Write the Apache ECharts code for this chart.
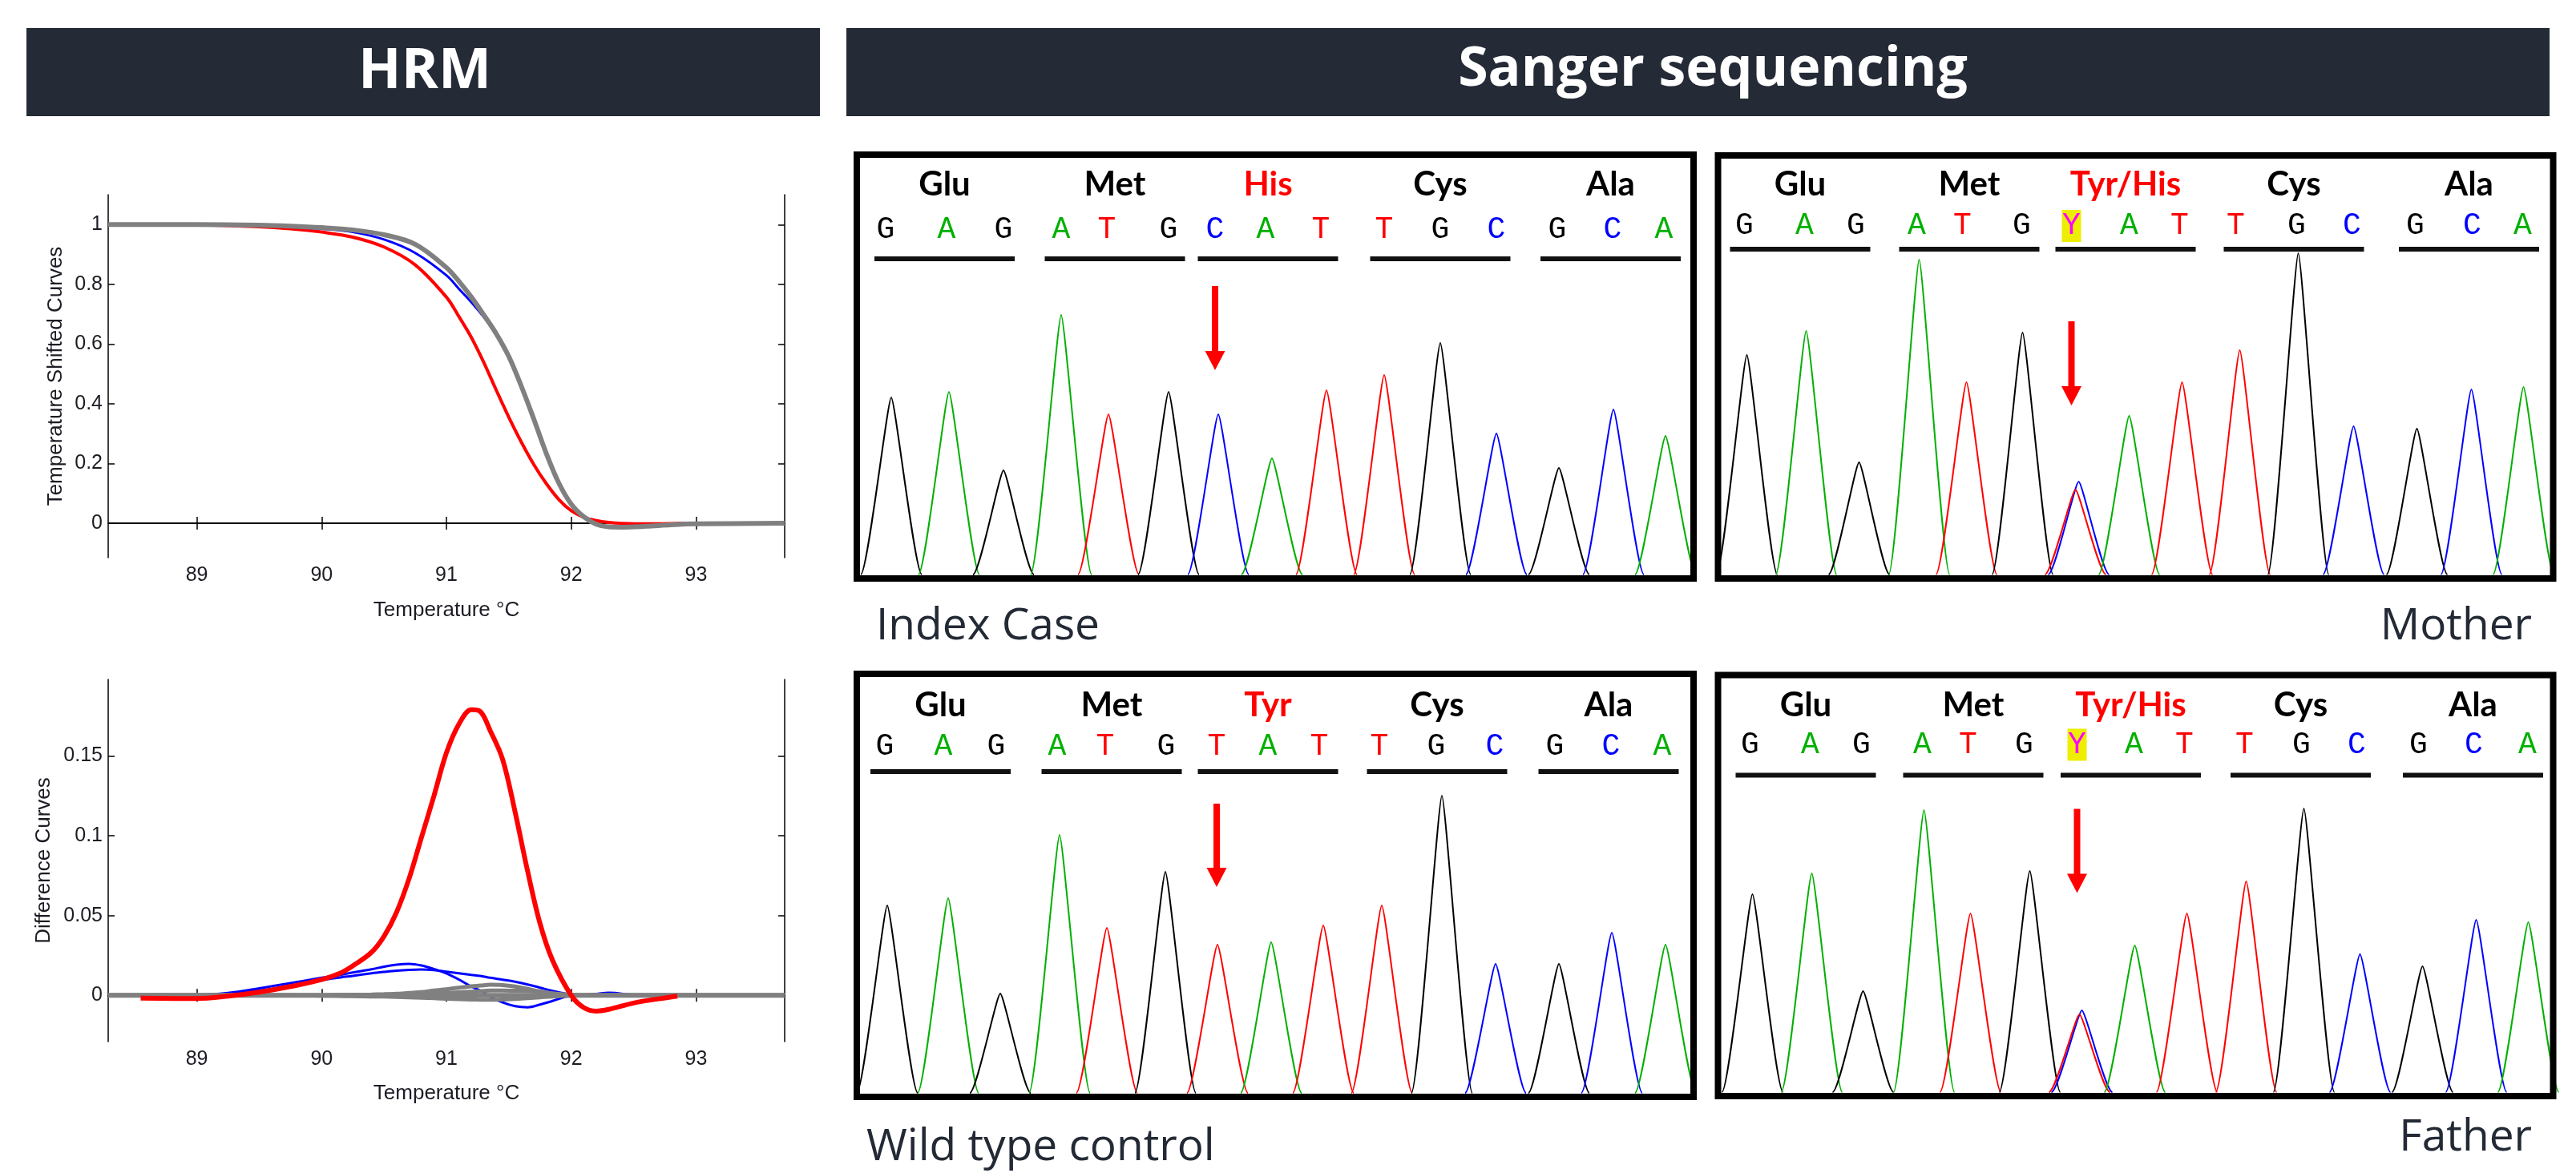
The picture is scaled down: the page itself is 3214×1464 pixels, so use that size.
<!DOCTYPE html>
<html><head><meta charset="utf-8">
<script src="https://cdn.jsdelivr.net/npm/echarts@6/dist/echarts.min.js"></script>
<style>html,body{margin:0;padding:0;background:#fff;}#c{width:3214px;height:1464px;}</style>
</head><body><div id="c"></div>
<script>
// ---------------- HRM data ----------------
const tempTicks = [89, 90, 91, 92, 93];
const meltYTicks = [0, 0.2, 0.4, 0.6, 0.8, 1];
const diffYTicks = [0, 0.05, 0.1, 0.15];

const hrmTempMelt = [88.29, 88.5, 89, 89.5, 89.75, 90, 90.25, 90.5, 90.75, 91, 91.1, 91.2, 91.3, 91.4, 91.5, 91.6, 91.7, 91.8, 91.9, 92, 92.1, 92.2, 92.3, 92.4, 92.6, 92.8, 93, 93.71];
const meltGrey = [1, 1, 1, 0.998, 0.995, 0.99, 0.982, 0.966, 0.934, 0.856, 0.81, 0.757, 0.697, 0.634, 0.558, 0.459, 0.349, 0.234, 0.135, 0.064, 0.022, -0.003, -0.012, -0.013, -0.01, -0.005, -0.002, 0];
const meltBlue = [1, 1, 1, 0.997, 0.992, 0.986, 0.975, 0.950, 0.905, 0.830, 0.785, 0.740, 0.690, 0.634, 0.558, 0.459, 0.349, 0.234, 0.135, 0.064, 0.022, -0.003, -0.012, -0.013, -0.01, -0.005, -0.002, 0];
const meltRed = [1, 1, 0.999, 0.993, 0.986, 0.975, 0.958, 0.925, 0.865, 0.757, 0.692, 0.622, 0.538, 0.445, 0.355, 0.272, 0.197, 0.133, 0.08, 0.042, 0.02, 0.009, 0.003, 0, -0.002, -0.001, 0, 0];

const hrmTempDiff = [88.29, 88.55, 89, 89.25, 89.5, 89.75, 90, 90.15, 90.25, 90.4, 90.5, 90.6, 90.7, 90.8, 90.9, 91, 91.1, 91.2, 91.27, 91.35, 91.45, 91.55, 91.65, 91.75, 91.85, 92, 92.1, 92.2, 92.3, 92.5, 92.7, 92.85, 93, 93.71];
const diffRed = [null, -0.0018, -0.002, -0.0005, 0.002, 0.0055, 0.0099, 0.014, 0.0185, 0.027, 0.037, 0.052, 0.073, 0.099, 0.125, 0.152, 0.17, 0.179, 0.178, 0.166, 0.148, 0.115, 0.078, 0.045, 0.022, 0, -0.0077, -0.0099, -0.0088, -0.0048, -0.0022, -0.0005, null, null];
const diffBlue1 = [0, 0, 0.0002, 0.0015, 0.0044, 0.0077, 0.011, 0.0128, 0.0143, 0.0163, 0.018, 0.0192, 0.0197, 0.0187, 0.0165, 0.0138, 0.0099, 0.0055, 0.003, -0.001, -0.0045, -0.0068, -0.0075, -0.0058, -0.0035, 0, 0.0004, 0.0009, 0.0016, 0.0003, 0, 0, 0, 0];
const diffBlue2 = [0, 0, 0, 0.001, 0.003, 0.006, 0.0095, 0.0112, 0.0122, 0.0138, 0.0147, 0.0155, 0.016, 0.0162, 0.0158, 0.0148, 0.0138, 0.0128, 0.0122, 0.011, 0.0098, 0.0085, 0.0068, 0.0048, 0.0028, 0.0005, 0, 0, 0, 0, 0, 0, 0, 0];
const diffGreyA = [0, 0, 0, 0, 0, 0, 0, 0.0002, 0.0003, 0.0005, 0.0007, 0.001, 0.0015, 0.002, 0.003, 0.0038, 0.0048, 0.0057, 0.0061, 0.0066, 0.0064, 0.0055, 0.004, 0.0025, 0.0012, 0.0002, 0, 0, 0, 0, 0, 0, 0, 0];
const diffGreyB = [0, 0, 0, 0, 0, 0, -0.0002, -0.0004, -0.0005, -0.0007, -0.0008, -0.001, -0.0012, -0.0015, -0.0018, -0.0021, -0.0024, -0.0026, -0.0027, -0.0028, -0.0026, -0.0022, -0.0017, -0.0012, -0.0007, -0.0002, 0, 0, 0, 0, 0, 0, 0, 0];
const diffGreyC = [0, 0, 0, 0, 0, 0, 0, 0, 0, 0, 0, 0, 0, 0, 0, 0, 0, 0, 0, 0, 0, 0, 0, 0, 0, 0, 0, 0, 0, 0, 0, 0, 0, 0];
const diffGreyD = [0, 0, 0, 0, 0, 0, 0, 0, 0.0002, 0.0003, 0.0004, 0.0006, 0.0009, 0.0011, 0.0013, 0.0015, 0.0019, 0.0023, 0.0026, 0.003, 0.003, 0.0029, 0.0028, 0.0021, 0.0012, 0.0003, 0, 0, 0, 0, 0, 0, 0, 0];

// ---------------- Sanger data (trace position, signal) ----------------
const indexPeakBase = ['G','A','G','A','T','G','C','A','T','T','G','C','G','C','A'];
const indexPeakPos = [43, 115, 183, 255, 314, 389, 451, 518, 586, 658, 728, 798, 876, 944, 1009];
const indexPeakHeight = [221, 228, 130, 324, 200, 228, 200, 145, 230, 249, 289, 176, 133, 206, 173];
const indexCalls = ['G','A','G','A','T','G','C','A','T','T','G','C','G','C','A'];
const indexCallPos = [36, 112, 183, 255, 312, 389, 447, 510, 579, 658, 728, 798, 874, 943, 1007];
const indexAminoAcids = ['Glu', 'Met', 'His', 'Cys', 'Ala'];

const motherPeakBase = ['G','A','G','A','T','G','C','T','A','T','T','G','C','G','C','A'];
const motherPeakPos = [36, 110, 176, 251, 310, 380, 450, 446, 513, 579, 651, 724, 793, 872, 940, 1005];
const motherPeakHeight = [274, 304, 140, 393, 240, 302, 116, 106, 198, 240, 280, 401, 185, 182, 231, 234];
const motherCalls = ['G','A','G','A','T','G','Y','A','T','T','G','C','G','C','A'];
const motherCallPos = [33, 108, 172, 248, 305, 379, 441, 513, 576, 646, 722, 791, 870, 941, 1004];
const motherAminoAcids = ['Glu', 'Met', 'Tyr/His', 'Cys', 'Ala'];

const wtPeakBase = ['G','A','G','A','T','G','T','A','T','T','G','C','G','C','A'];
const wtPeakPos = [38, 114, 179, 253, 312, 385, 450, 517, 582, 655, 730, 797, 876, 942, 1009];
const wtPeakHeight = [234, 243, 124, 322, 206, 276, 185, 188, 209, 234, 371, 161, 161, 200, 185];
const wtCalls = ['G','A','G','A','T','G','T','A','T','T','G','C','G','C','A'];
const wtCallPos = [35, 108, 174, 250, 310, 386, 449, 513, 577, 652, 723, 796, 871, 941, 1005];
const wtAminoAcids = ['Glu', 'Met', 'Tyr', 'Cys', 'Ala'];

const fatherPeakBase = ['G','A','G','A','T','G','C','T','A','T','T','G','C','G','C','A'];
const fatherPeakPos = [43, 117, 181, 257, 315, 389, 454, 451, 520, 585, 659, 731, 801, 879, 946, 1011];
const fatherPeakHeight = [247, 273, 126, 352, 223, 276, 102, 97, 183, 223, 263, 354, 172, 157, 215, 212];
const fatherCalls = ['G','A','G','A','T','G','Y','A','T','T','G','C','G','C','A'];
const fatherCallPos = [40, 115, 179, 255, 312, 382, 448, 519, 582, 657, 728, 797, 874, 943, 1010];
const fatherAminoAcids = ['Glu', 'Met', 'Tyr/His', 'Cys', 'Ala'];

const mutantCodon = 2;
const mutantBase = 6;

// ---------------- layout / style ----------------
const CH_COLOR = {G: '#000000', A: '#00b000', T: '#ff0000', C: '#0000ff', Y: '#ff00ff'};
const PEAK_HALF = 38;
const panels = [
  {name: 'index', grid: {left: 1069, top: 193, width: 1044, height: 529}, aaY: 37, baseY: 94, ulY: 130, arrowTop: 164, arrowTip: 269,
   pb: indexPeakBase, pp: indexPeakPos, ph: indexPeakHeight, calls: indexCalls, cp: indexCallPos, aa: indexAminoAcids},
  {name: 'mother', grid: {left: 2143.5, top: 194, width: 1042, height: 528}, aaY: 36, baseY: 88, ulY: 117, arrowTop: 207, arrowTip: 312,
   pb: motherPeakBase, pp: motherPeakPos, ph: motherPeakHeight, calls: motherCalls, cp: motherCallPos, aa: motherAminoAcids},
  {name: 'wt', grid: {left: 1069, top: 841, width: 1044, height: 528}, aaY: 39, baseY: 91, ulY: 122, arrowTop: 162, arrowTip: 266,
   pb: wtPeakBase, pp: wtPeakPos, ph: wtPeakHeight, calls: wtCalls, cp: wtCallPos, aa: wtAminoAcids},
  {name: 'father', grid: {left: 2143.5, top: 842.5, width: 1042, height: 525.5}, aaY: 38, baseY: 87, ulY: 125, arrowTop: 167, arrowTip: 272,
   pb: fatherPeakBase, pp: fatherPeakPos, ph: fatherPeakHeight, calls: fatherCalls, cp: fatherCallPos, aa: fatherAminoAcids}
];

const AX_FONT = '"Liberation Sans", Arial, sans-serif';
const AX_COLOR = '#1c1c24';

function zip(xs, ys) { return xs.map((x, i) => [x, ys[i]]).filter(p => p[1] !== null); }

const grids = [
  {left: 135, top: 243, width: 844, height: 453},
  {left: 135, top: 848, width: 844, height: 452}
];
panels.forEach(p => grids.push(p.grid));

const xAxes = [], yAxes = [];
function hrmAxes(gi, ymin, ymax, yTicks, yName, yGap, xGap) {
  const line = {show: true, lineStyle: {color: '#000', width: 1.5}};
  const tick = (vals) => ({show: true, inside: true, length: 8, lineStyle: {color: '#000', width: 1.5}, customValues: vals});
  xAxes.push({gridIndex: gi, type: 'value', position: 'bottom', min: 88.29, max: 93.71,
    axisLine: line, axisTick: tick(tempTicks), splitLine: {show: false},
    axisLabel: {customValues: tempTicks, fontSize: 25, color: AX_COLOR, fontFamily: AX_FONT, margin: 10},
    name: 'Temperature °C', nameLocation: 'middle', nameGap: xGap,
    nameTextStyle: {fontSize: 26, color: AX_COLOR, fontFamily: AX_FONT}});
  xAxes.push({gridIndex: gi, type: 'value', position: 'top', min: 88.29, max: 93.71,
    axisLine: line, axisTick: tick(tempTicks), axisLabel: {show: false}, splitLine: {show: false}});
  yAxes.push({gridIndex: gi, type: 'value', position: 'left', min: ymin, max: ymax,
    axisLine: line, axisTick: tick(yTicks), splitLine: {show: false},
    axisLabel: {customValues: yTicks, fontSize: 25, color: AX_COLOR, fontFamily: AX_FONT, margin: 7},
    name: yName, nameLocation: 'middle', nameGap: yGap, nameRotate: 90,
    nameTextStyle: {fontSize: 26, color: AX_COLOR, fontFamily: AX_FONT}});
  yAxes.push({gridIndex: gi, type: 'value', position: 'right', min: ymin, max: ymax,
    axisLine: line, axisTick: tick(yTicks), axisLabel: {show: false}, splitLine: {show: false}});
}
hrmAxes(0, -0.115, 1.1, meltYTicks, 'Temperature Shifted Curves', 52, 53);
hrmAxes(1, -0.029, 0.198, diffYTicks, 'Difference Curves', 67, 52);
panels.forEach((p, k) => {
  xAxes.push({gridIndex: 2 + k, type: 'value', min: 0, max: p.grid.width, show: false});
  yAxes.push({gridIndex: 2 + k, type: 'value', min: -5, max: p.grid.height - 5, show: false});
});

const series = [];
function hrmLine(ai, xs, ys, color, width) {
  series.push({type: 'line', xAxisIndex: ai, yAxisIndex: ai, data: zip(xs, ys), showSymbol: false, symbol: 'none',
    smooth: 0.35, lineStyle: {color: color, width: width}, silent: true});
}
// melt curves (axis index 0)
hrmLine(0, hrmTempMelt, meltRed, '#ff0000', 4);
hrmLine(0, hrmTempMelt, meltBlue, '#0000ff', 3);
hrmLine(0, hrmTempMelt, meltGrey, '#808080', 6);
// difference curves (axis index 2)
hrmLine(2, hrmTempDiff, diffBlue1, '#0000ff', 3);
hrmLine(2, hrmTempDiff, diffBlue2, '#0000ff', 3);
hrmLine(2, hrmTempDiff, diffGreyA, '#808080', 5);
hrmLine(2, hrmTempDiff, diffGreyB, '#808080', 5);
hrmLine(2, hrmTempDiff, diffGreyD, '#808080', 5);
hrmLine(2, hrmTempDiff, diffGreyC, '#808080', 6);
hrmLine(2, hrmTempDiff, diffRed, '#ff0000', 6);

panels.forEach((p, k) => {
  const ax = 4 + k;
  // peaks
  series.push({type: 'custom', xAxisIndex: ax, yAxisIndex: ax, silent: true,
    data: p.pp.map((x, i) => [x, p.ph[i]]), encode: {x: 0, y: 1},
    renderItem: function (params, api) {
      const c = api.coord([api.value(0), api.value(1)]);
      const l = api.coord([api.value(0) - PEAK_HALF, 0]);
      const r = api.coord([api.value(0) + PEAK_HALF, 0]);
      const w = c[0] - l[0], b = l[1];
      const d = 'M' + l[0] + ',' + b + ' C' + (l[0] + 0.22 * w) + ',' + b + ' ' + (c[0] - 0.12 * w) + ',' + c[1] + ' ' + c[0] + ',' + c[1] +
        ' C' + (c[0] + 0.12 * w) + ',' + c[1] + ' ' + (r[0] - 0.22 * w) + ',' + b + ' ' + r[0] + ',' + b;
      return {type: 'path', shape: {pathData: d}, style: {fill: 'none', stroke: CH_COLOR[p.pb[params.dataIndex]], lineWidth: 2}};
    }});
  // base calls
  series.push({type: 'custom', xAxisIndex: ax, yAxisIndex: ax, silent: true,
    data: p.cp.map(x => [x, 0]), encode: {x: 0, y: 1},
    renderItem: function (params, api) {
      const x = api.coord([api.value(0), 0])[0];
      const y = params.coordSys.y + p.baseY;
      const ch = p.calls[params.dataIndex];
      const children = [];
      if (ch === 'Y') children.push({type: 'rect', shape: {x: x - 12, y: y - 20, width: 24, height: 40}, style: {fill: '#eeee00'}});
      children.push({type: 'text', x: x, y: y, style: {text: ch, fill: CH_COLOR[ch], font: '38px "Liberation Mono", monospace', align: 'center', verticalAlign: 'middle'}});
      return {type: 'group', children: children};
    }});
  // codons: underline + amino acid
  series.push({type: 'custom', xAxisIndex: ax, yAxisIndex: ax, silent: true,
    data: p.aa.map((a, i) => [(p.cp[3 * i] + p.cp[3 * i + 2]) / 2, 0]), encode: {x: 0, y: 1},
    renderItem: function (params, api) {
      const x = api.coord([api.value(0), 0])[0];
      const top = params.coordSys.y;
      const i = params.dataIndex;
      return {type: 'group', children: [
        {type: 'rect', shape: {x: x - 87.5, y: top + p.ulY - 3, width: 175, height: 6}, style: {fill: '#111'}},
        {type: 'text', x: x, y: top + p.aaY, style: {text: p.aa[i], fill: i === mutantCodon ? '#ff0000' : '#000',
          font: 'bold 42px Lato, sans-serif', align: 'center', verticalAlign: 'middle'}}
      ]};
    }});
  // arrow
  series.push({type: 'custom', xAxisIndex: ax, yAxisIndex: ax, silent: true,
    data: [[p.cp[mutantBase], 0]], encode: {x: 0, y: 1},
    renderItem: function (params, api) {
      const x = api.coord([api.value(0), 0])[0];
      const top = params.coordSys.y;
      const t0 = top + p.arrowTop, tip = top + p.arrowTip, hs = tip - 24;
      return {type: 'group', children: [
        {type: 'rect', shape: {x: x - 4, y: t0, width: 8, height: hs - t0 + 1}, style: {fill: '#ff0000'}},
        {type: 'polygon', shape: {points: [[x - 12.5, hs], [x + 12.5, hs], [x, tip]]}, style: {fill: '#ff0000'}}
      ]};
    }});
});

const graphic = [
  {type: 'rect', shape: {x: 33, y: 35, width: 990, height: 110}, style: {fill: '#242a36'}},
  {type: 'text', x: 530, y: 90, style: {text: 'HRM', fill: '#fff', font: 'bold 70px "Open Sans", sans-serif', align: 'center', verticalAlign: 'middle'}},
  {type: 'rect', shape: {x: 1056, y: 35, width: 2125, height: 110}, style: {fill: '#242a36'}},
  {type: 'text', x: 2137, y: 88, style: {text: 'Sanger sequencing', fill: '#fff', font: 'bold 68px "Open Sans", sans-serif', align: 'center', verticalAlign: 'middle'}},
  {type: 'text', x: 1093, y: 782, style: {text: 'Index Case', fill: '#232a35', font: '55px "Open Sans", sans-serif', align: 'left', verticalAlign: 'middle'}},
  {type: 'text', x: 3159, y: 782, style: {text: 'Mother', fill: '#232a35', font: '55px "Open Sans", sans-serif', align: 'right', verticalAlign: 'middle'}},
  {type: 'text', x: 1081, y: 1432, style: {text: 'Wild type control', fill: '#232a35', font: '55px "Open Sans", sans-serif', align: 'left', verticalAlign: 'middle'}},
  {type: 'text', x: 3159, y: 1420, style: {text: 'Father', fill: '#232a35', font: '55px "Open Sans", sans-serif', align: 'right', verticalAlign: 'middle'}}
];
panels.forEach(p => {
  graphic.push({type: 'rect', z: 100, shape: {x: p.grid.left, y: p.grid.top, width: p.grid.width, height: p.grid.height},
    style: {fill: 'none', stroke: '#000', lineWidth: 8}});
});

const chart = echarts.init(document.getElementById('c'));
chart.setOption({
  backgroundColor: '#ffffff',
  animation: false,
  grid: grids,
  xAxis: xAxes,
  yAxis: yAxes,
  series: series,
  graphic: graphic
});
</script></body></html>
